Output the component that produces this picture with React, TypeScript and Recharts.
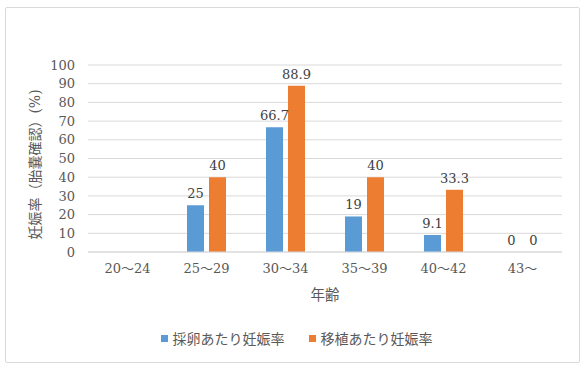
import React from 'react';
import { BarChart, Bar, XAxis, YAxis, CartesianGrid, LabelList, Label } from 'recharts';

const ageGroups = ['20〜24', '25〜29', '30〜34', '35〜39', '40〜42', '43〜'];
const perRetrieval = [null, 25, 66.7, 19, 9.1, 0];
const perTransfer = [null, 40, 88.9, 40, 33.3, 0];
const yTicks = [0, 10, 20, 30, 40, 50, 60, 70, 80, 90, 100];

const seriesNames = ['採卵あたり妊娠率', '移植あたり妊娠率'];
const seriesColors = ['#5B9BD5', '#ED7D31'];

const data = ageGroups.map((age, i) => ({
  age,
  retrieval: perRetrieval[i],
  transfer: perTransfer[i],
}));

const font = "'DejaVu Serif', 'Noto Sans CJK JP', serif";
const textColor = '#595959';

const YTitle = (props: any) => {
  const vb = props.viewBox;
  const cx = vb.x + 15;
  const cy = vb.y + vb.height / 2 + 6;
  return (
    <text
      x={cx}
      y={cy}
      transform={`rotate(-90 ${cx} ${cy})`}
      textAnchor="middle"
      dominantBaseline="central"
      fill={textColor}
      fontSize={14}
      fontFamily={font}
    >
      妊娠率（胎嚢確認）(%)
    </text>
  );
};

const XTitle = (props: any) => {
  const vb = props.viewBox;
  return (
    <text
      x={vb.x + vb.width / 2}
      y={vb.y + 43}
      textAnchor="middle"
      dominantBaseline="central"
      fill={textColor}
      fontSize={14.5}
      fontFamily={font}
    >
      年齢
    </text>
  );
};

const fmt = (v: any) => (v === null || v === undefined ? '' : String(v));

// zero values still need their "0" label, so give them a hair-thin bar
const tinyForZero = (v: any) => (v === 0 ? 0.01 : 0);

export default function App() {
  return (
    <div style={{ position: 'absolute', left: 0, top: 0, width: 585, height: 371, background: '#fff', fontFamily: font }}>
      <div
        style={{
          position: 'absolute',
          left: 5,
          top: 7,
          width: 573,
          height: 354,
          border: '1px solid #d9d9d9',
          borderRadius: 2,
        }}
      />
      <BarChart
        width={585}
        height={371}
        data={data}
        margin={{ top: 65, right: 23, bottom: 59, left: 20 }}
        barSize={17}
        barGap={5}
        style={{ position: 'absolute', left: 0, top: 0 }}
      >
        <CartesianGrid vertical={false} stroke="#d9d9d9" />
        <XAxis
          dataKey="age"
          height={60}
          tickLine={false}
          axisLine={{ stroke: '#d9d9d9' }}
          tick={{ fill: textColor, fontSize: 13, fontFamily: font }}
          tickMargin={6}
          interval={0}
        >
          <Label content={<XTitle />} />
        </XAxis>
        <YAxis
          width={68}
          domain={[0, 100]}
          ticks={yTicks}
          interval={0}
          tickLine={false}
          axisLine={false}
          tick={{ fill: textColor, fontSize: 13, fontFamily: font }}
          tickMargin={7}
        >
          <Label content={<YTitle />} />
        </YAxis>
        <Bar dataKey="retrieval" name={seriesNames[0]} fill={seriesColors[0]} minPointSize={tinyForZero} isAnimationActive={false}>
          <LabelList dataKey="retrieval" position="top" offset={7} formatter={fmt} fill="#404040" fontSize={13} fontFamily={font} />
        </Bar>
        <Bar dataKey="transfer" name={seriesNames[1]} fill={seriesColors[1]} minPointSize={tinyForZero} isAnimationActive={false}>
          <LabelList dataKey="transfer" position="top" offset={7} formatter={fmt} fill="#404040" fontSize={13} fontFamily={font} />
        </Bar>
      </BarChart>
      <div
        style={{
          position: 'absolute',
          top: 328,
          left: 0,
          width: 585,
          display: 'flex',
          justifyContent: 'center',
          gap: 24,
          fontSize: 14,
          color: textColor,
          paddingLeft: 8,
          boxSizing: 'border-box',
        }}
      >
        {seriesNames.map((name, i) => (
          <div key={name} style={{ display: 'flex', alignItems: 'center' }}>
            <span style={{ display: 'inline-block', width: 7, height: 7, background: seriesColors[i], marginRight: 5 }} />
            <span>{name}</span>
          </div>
        ))}
      </div>
    </div>
  );
}
